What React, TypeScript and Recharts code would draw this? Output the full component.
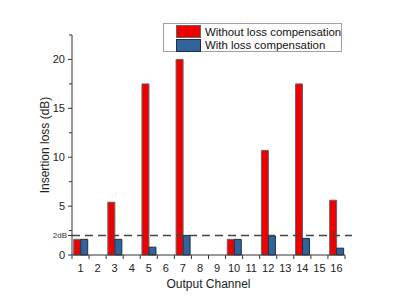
import { BarChart, Bar, XAxis, YAxis, ReferenceLine } from 'recharts'

const channels = ['1', '2', '3', '4', '5', '6', '7', '8', '9', '10', '11', '12', '13', '14', '15', '16']
const withoutComp: (number | null)[] = [1.6, null, 5.4, null, 17.5, null, 20, null, null, 1.6, null, 10.7, null, 17.5, null, 5.6]
const withComp: (number | null)[] = [1.6, null, 1.6, null, 0.8, null, 2.0, null, null, 1.6, null, 1.95, null, 1.7, null, 0.7]
const yTicks = [0, 2, 2.5, 5, 7.5, 10, 12.5, 15, 17.5, 20, 22.5]
const majorTicks = [0, 5, 10, 15, 20]
const thresholdDb = 2
const seriesNames = ['Without loss compensation', 'With loss compensation']

const FONT = '"Liberation Sans", Arial, sans-serif'
const RED = '#ee0000'
const BLUE = '#33639b'

const data = channels.map((c, i) => ({
  channel: c,
  without: withoutComp[i],
  with: withComp[i],
}))

// y ticks: majors get numbers, 2 gets the small "2dB" mark, rest are minor
function YTick(props: any) {
  const { x, y, payload } = props
  const v = payload.value as number
  const major = majorTicks.includes(v)
  const isThreshold = v === thresholdDb
  const len = major || isThreshold ? 4 : 3
  return (
    <g>
      <line x1={x - len} x2={x} y1={y} y2={y} stroke="#333" strokeWidth={1} />
      {major && (
        <text x={x - 7} y={y} dy={4} textAnchor="end" fontSize={11} fill="#222" fontFamily={FONT}>
          {v}
        </text>
      )}
      {isThreshold && (
        <text x={x - 5} y={y} dy={3} textAnchor="end" fontSize={8} fill="#333" fontFamily={FONT}>
          2dB
        </text>
      )}
    </g>
  )
}

// x ticks sit on the category boundaries, labels on the centres
function XTick(props: any) {
  const { x, y, payload, index } = props
  const half = 8.53
  return (
    <g>
      {index === 0 && <line x1={x - half} x2={x - half} y1={y} y2={y + 4} stroke="#333" />}
      <line x1={x + half} x2={x + half} y1={y} y2={y + 4} stroke="#333" />
      <text x={x} y={y + 17} textAnchor="middle" fontSize={11} fill="#222" fontFamily={FONT}>
        {payload.value}
      </text>
    </g>
  )
}

function LegendBox() {
  const row = (color: string, border: string, label: string) => (
    <div style={{ display: 'flex', alignItems: 'center', height: 13.5 }}>
      <div style={{ flexShrink: 0, width: 23, height: 11, background: color, border: `1px solid ${border}`, marginLeft: 12, marginRight: 4 }} />
      <span style={{ fontSize: 11.4, color: '#111', fontFamily: FONT, whiteSpace: 'nowrap' }}>{label}</span>
    </div>
  )
  return (
    <div
      style={{
        position: 'absolute',
        left: 163,
        top: 23,
        width: 179,
        height: 29,
        paddingTop: 1,
        border: '1px solid #a0a0a0',
        boxSizing: 'border-box',
        background: '#fff',
      }}
    >
      {row(RED, '#666', seriesNames[0])}
      {row(BLUE, '#1e2e44', seriesNames[1])}
    </div>
  )
}

function DashedLine(props: any) {
  const { x1, y1, x2, y2 } = props
  return <line x1={x1} y1={y1} x2={x2 + 7} y2={y2} stroke="#444" strokeWidth={1.6} strokeDasharray="8 5" />
}

export default function App() {
  return (
    <div style={{ position: 'absolute', left: 0, top: 0, width: 400, height: 306, background: '#fff' }}>
      <BarChart
        width={400}
        height={306}
        data={data}
        margin={{ top: 35, right: 55, bottom: 21, left: 0 }}
        barCategoryGap="10%"
        barGap={0}
      >
        <XAxis
          dataKey="channel"
          height={30}
          tickSize={0}
          tickMargin={0}
          tick={<XTick />}
          interval={0}
          stroke="#333"
          label={{ value: 'Output Channel', position: 'bottom', offset: -6, fontSize: 12, fill: '#222', fontFamily: FONT }}
        />
        <YAxis
          width={72}
          domain={[0, 22.5]}
          ticks={yTicks}
          tickSize={0}
          tickMargin={0}
          tick={<YTick />}
          interval={0}
          stroke="#333"
          label={{ value: 'Insertion loss (dB)', angle: -90, position: 'center', dx: 9, fontSize: 12, fill: '#222', fontFamily: FONT }}
        />
        <Bar dataKey="without" name={seriesNames[0]} fill={RED} stroke="#666" strokeWidth={1} isAnimationActive={false} />
        <Bar dataKey="with" name={seriesNames[1]} fill={BLUE} stroke="#1e2e44" strokeWidth={1} isAnimationActive={false} />
        <ReferenceLine y={thresholdDb} shape={<DashedLine />} ifOverflow="visible" />
      </BarChart>
      <LegendBox />
    </div>
  )
}
